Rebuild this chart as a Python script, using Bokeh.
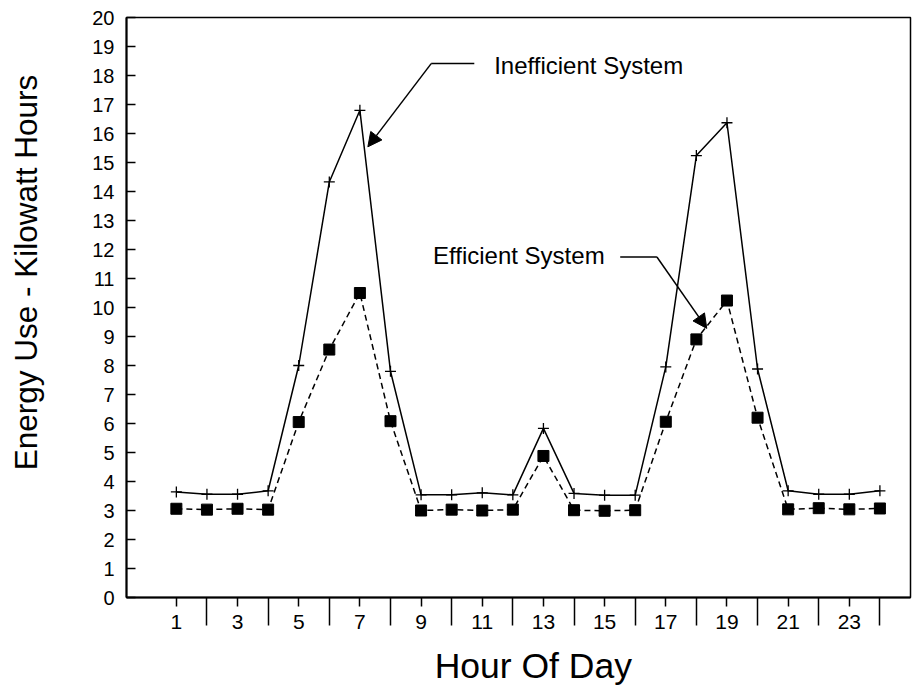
from bokeh.plotting import figure
from bokeh.models import Range1d, FixedTicker, Arrow, NormalHead, Label, ColumnDataSource
from bokeh.embed import file_html
from bokeh.resources import INLINE

hours = list(range(1, 25))
inefficient = [3.64, 3.56, 3.56, 3.68, 8.0, 14.33, 16.8, 7.8, 3.54, 3.54, 3.61, 3.54,
               5.83, 3.59, 3.53, 3.53, 7.95, 15.24, 16.37, 7.88, 3.68, 3.56, 3.56, 3.68]
efficient = [3.06, 3.03, 3.06, 3.03, 6.05, 8.55, 10.5, 6.08, 3.0, 3.03, 3.0, 3.03,
             4.88, 3.01, 2.99, 3.01, 6.06, 8.9, 10.24, 6.2, 3.04, 3.08, 3.04, 3.07]
label_hours = list(range(1, 25, 2))
minor_hours = list(range(2, 25, 2))
y_ticks = list(range(0, 21))

FONT = "Liberation Sans"
NB = "\u00a0"

p = figure(width=916, height=691, output_backend="svg", toolbar_location=None,
           x_range=Range1d(-0.63, 25), y_range=Range1d(0, 20),
           min_border_left=126, min_border_right=6, min_border_top=17, min_border_bottom=94)
p.grid.visible = False
p.outline_line_color = "black"
p.outline_line_width = 1.5
p.background_fill_color = "white"
p.border_fill_color = "white"

src = ColumnDataSource(dict(h=hours, ineff=inefficient, eff=efficient))

p.line("h", "ineff", source=src, line_color="black", line_width=1.5)
p.scatter("h", "ineff", source=src, marker="cross", size=11, line_color="black", line_width=1.3)
p.line("h", "eff", source=src, line_color="black", line_width=1.5, line_dash="6 4")
p.scatter("h", "eff", source=src, marker="square", size=11, fill_color="black", line_color="black")

# axes
xa = p.xaxis[0]
xa.ticker = FixedTicker(ticks=label_hours, minor_ticks=minor_hours)
xa.major_tick_out = 9
xa.major_tick_in = 0
xa.minor_tick_out = 28
xa.minor_tick_in = 0
xa.major_tick_line_width = 1.5
xa.minor_tick_line_width = 1.5
xa.axis_line_width = 2
xa.major_label_standoff = -11
xa.major_label_text_font = FONT
xa.major_label_text_font_size = "21px"
xa.major_label_text_color = "black"
xa.axis_label = NB * 3 + "Hour Of Day"
xa.axis_label_text_font = FONT
xa.axis_label_text_font_size = "35.5px"
xa.axis_label_text_font_style = "normal"
xa.axis_label_text_color = "black"
xa.axis_label_standoff = 14

ya = p.yaxis[0]
ya.ticker = FixedTicker(ticks=y_ticks)
ya.major_tick_in = 9
ya.major_tick_out = 0
ya.minor_tick_in = 0
ya.minor_tick_out = 0
ya.major_tick_line_width = 1.5
ya.axis_line_width = 2
ya.major_label_standoff = 12
ya.major_label_text_font = FONT
ya.major_label_text_font_size = "20px"
ya.major_label_text_color = "black"
ya.axis_label = NB * 8 + "Energy Use - Kilowatt Hours"
ya.axis_label_text_font = FONT
ya.axis_label_text_font_size = "31.5px"
ya.axis_label_text_font_style = "normal"
ya.axis_label_text_color = "black"
ya.axis_label_standoff = 45

# annotations
p.add_layout(Label(x=11.39, y=18.35, text="Inefficient System", text_font=FONT,
                   text_font_size="24px", text_baseline="middle", text_color="black"))
p.line([10.74, 9.33], [18.41, 18.41], line_color="black", line_width=1.5)
p.add_layout(Arrow(x_start=9.33, y_start=18.41, x_end=7.26, y_end=15.54,
                   line_color="black", line_width=1.5,
                   end=NormalHead(size=14, fill_color="black", line_color="black")))

p.add_layout(Label(x=9.39, y=11.78, text="Efficient System", text_font=FONT,
                   text_font_size="24px", text_baseline="middle", text_color="black"))
p.line([15.51, 16.71], [11.74, 11.74], line_color="black", line_width=1.5)
p.add_layout(Arrow(x_start=16.71, y_start=11.74, x_end=18.34, y_end=9.28,
                   line_color="black", line_width=1.5,
                   end=NormalHead(size=14, fill_color="black", line_color="black")))

open("out.html", "w").write(file_html(p, INLINE))
